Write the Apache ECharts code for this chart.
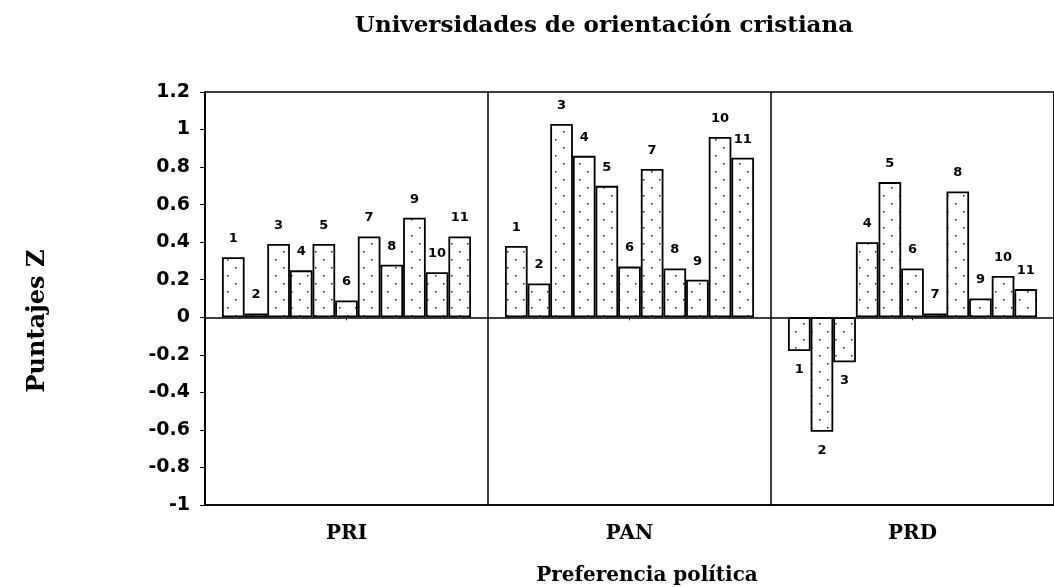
<!DOCTYPE html>
<html>
<head>
<meta charset="utf-8">
<script src="https://cdn.jsdelivr.net/npm/echarts@6/dist/echarts.min.js"></script>
<style>
  html, body { margin: 0; padding: 0; background: #fff; }
  #main { width: 1054px; height: 587px; }
</style>
</head>
<body>
<div id="main"></div>
<script>
const groups = ['PRI', 'PAN', 'PRD']
const barNames = ['1', '2', '3', '4', '5', '6', '7', '8', '9', '10', '11']
// one value per bar number, per party
const pri = [0.32, 0.02, 0.39, 0.25, 0.39, 0.09, 0.43, 0.28, 0.53, 0.24, 0.43]
const pan = [0.38, 0.18, 1.03, 0.86, 0.70, 0.27, 0.79, 0.26, 0.20, 0.96, 0.85]
const prd = [-0.18, -0.61, -0.24, 0.40, 0.72, 0.26, 0.02, 0.67, 0.10, 0.22, 0.15]

const serifFont = '"DejaVu Serif", serif'
const sansFont = '"DejaVu Sans", Verdana, sans-serif'

// sparse staggered dots, like the original fill
const makeDots = () => {
  const c = document.createElement('canvas')
  c.width = 16
  c.height = 16
  const ctx = c.getContext('2d')
  ctx.fillStyle = '#fff'
  ctx.fillRect(0, 0, 16, 16)
  ctx.fillStyle = '#222'
  ctx.fillRect(3, 3, 1.5, 1.5)
  ctx.fillRect(11, 11, 1.5, 1.5)
  return c
}
const dots = makeDots()

const series = barNames.map((name, i) => ({
  name,
  type: 'bar',
  xAxisIndex: 0,
  barGap: 0,
  barCategoryGap: '12%',
  itemStyle: {
    color: { image: dots, repeat: 'repeat' },
    borderColor: '#000',
    borderWidth: 1.8,
  },
  label: {
    show: true,
    position: 'top',
    distance: 12,
    formatter: name,
    color: '#000',
    fontFamily: sansFont,
    fontWeight: 'bold',
    fontSize: 13,
  },
  data: [pri[i], pan[i], prd[i]].map((v) =>
    v < 0 ? { value: v, label: { position: 'bottom' } } : v,
  ),
}))

const chart = echarts.init(document.getElementById('main'))
chart.setOption({
  animation: false,
  title: [
    {
      text: 'Universidades de orientación cristiana',
      left: 599,
      top: 10,
      textAlign: 'center',
      textStyle: { fontFamily: serifFont, fontWeight: 'bold', fontSize: 23, color: '#000' },
    },
    {
      text: 'Preferencia política',
      left: 642,
      top: 561,
      textAlign: 'center',
      textStyle: { fontFamily: serifFont, fontWeight: 'bold', fontSize: 20, color: '#000' },
    },
  ],
  graphic: [
    {
      type: 'text',
      x: 38,
      y: 321,
      rotation: Math.PI / 2,
      style: {
        text: 'Puntajes Z',
        font: 'bold 24px "DejaVu Serif", serif',
        fill: '#000',
        align: 'center',
        verticalAlign: 'middle',
      },
    },
  ],
  grid: {
    left: 205,
    right: 0,
    top: 92,
    bottom: 82,
    show: true,
    borderColor: '#000',
    borderWidth: 1.5,
  },
  xAxis: [
    {
      type: 'category',
      data: groups,
      axisLine: { onZero: true, lineStyle: { color: '#000', width: 1.5 } },
      axisTick: { show: true, alignWithLabel: true, length: 3, lineStyle: { color: '#000' } },
      axisLabel: { show: false },
      splitLine: { show: false },
    },
    {
      type: 'category',
      data: groups,
      position: 'bottom',
      axisLine: { onZero: false, lineStyle: { color: '#000', width: 1.5 } },
      axisTick: { show: false },
      axisLabel: {
        margin: 19,
        color: '#000',
        fontFamily: serifFont,
        fontWeight: 'bold',
        fontSize: 20,
      },
      splitLine: { show: true, lineStyle: { color: '#000', width: 1.5 } },
    },
  ],
  yAxis: {
    type: 'value',
    min: -1,
    max: 1.2,
    interval: 0.2,
    axisLine: { show: true, lineStyle: { color: '#000', width: 1.5 } },
    axisTick: { show: true, length: 5, lineStyle: { color: '#000' } },
    axisLabel: {
      margin: 15,
      color: '#000',
      fontFamily: sansFont,
      fontWeight: 'bold',
      fontSize: 19,
    },
    splitLine: { show: false },
  },
  series,
})
</script>
</body>
</html>
